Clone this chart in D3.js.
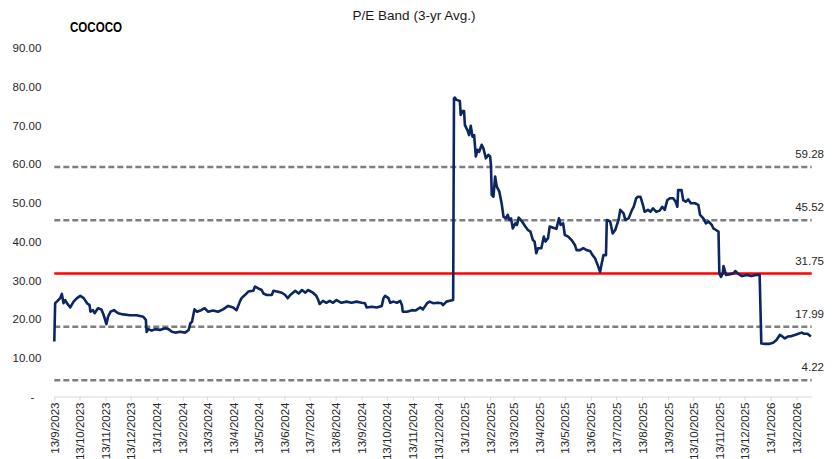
<!DOCTYPE html>
<html lang="en">
<head>
<meta charset="UTF-8"/>
<title>P/E Band (3-yr Avg.)</title>
<style>
  body { margin: 0; background: #ffffff; }
  svg { display: block; font-family: "Liberation Sans", Arial, sans-serif; }
  .tick_text { font-size: 11.5px; fill: #262626; }
  .band_label { font-size: 11.5px; fill: #262626; }
</style>
</head>
<body>
<svg width="840" height="459"></svg>
<script src="https://d3js.org/d3.v7.min.js"></script>
<script>
// P/E (3-yr avg) series
const dates = [
  "2023-09-13","2023-09-14","2023-09-16","2023-09-20","2023-09-22","2023-09-24","2023-09-26","2023-09-28",
  "2023-10-02","2023-10-06","2023-10-10","2023-10-14","2023-10-18","2023-10-22","2023-10-25","2023-10-26",
  "2023-10-29","2023-10-31","2023-11-04","2023-11-08","2023-11-10","2023-11-12","2023-11-14","2023-11-16",
  "2023-11-19","2023-11-23","2023-11-28","2023-12-04","2023-12-12","2023-12-20","2023-12-28","2023-12-31",
  "2024-01-01","2024-01-03","2024-01-07","2024-01-11","2024-01-17","2024-01-23","2024-01-27","2024-01-31",
  "2024-02-04","2024-02-10","2024-02-16","2024-02-20","2024-02-22","2024-02-24","2024-02-26","2024-02-27",
  "2024-03-01","2024-03-05","2024-03-10","2024-03-14","2024-03-20","2024-03-26","2024-04-01","2024-04-07",
  "2024-04-13","2024-04-17","2024-04-21","2024-04-23","2024-04-27","2024-05-01","2024-05-07","2024-05-09",
  "2024-05-13","2024-05-17","2024-05-19","2024-05-23","2024-05-29","2024-05-31","2024-06-04","2024-06-10",
  "2024-06-14","2024-06-17","2024-06-20","2024-06-26","2024-06-30","2024-07-04","2024-07-08","2024-07-11",
  "2024-07-17","2024-07-21","2024-07-23","2024-07-25","2024-07-29","2024-08-02","2024-08-06","2024-08-10",
  "2024-08-14","2024-08-20","2024-08-26","2024-09-01","2024-09-07","2024-09-13","2024-09-17","2024-09-19",
  "2024-09-25","2024-10-01","2024-10-07","2024-10-09","2024-10-11","2024-10-15","2024-10-17","2024-10-21",
  "2024-10-25","2024-10-29","2024-10-31","2024-11-01","2024-11-06","2024-11-12","2024-11-16","2024-11-22",
  "2024-11-25","2024-11-30","2024-12-03","2024-12-07","2024-12-13","2024-12-17","2024-12-19","2024-12-23",
  "2024-12-27","2024-12-31",
  "2025-01-01","2025-01-02","2025-01-04","2025-01-08","2025-01-09","2025-01-11","2025-01-13","2025-01-14",
  "2025-01-17","2025-01-19","2025-01-21","2025-01-23","2025-01-25","2025-01-27","2025-01-29","2025-01-31",
  "2025-02-03","2025-02-05","2025-02-08","2025-02-11","2025-02-13","2025-02-14","2025-02-15","2025-02-17",
  "2025-02-19","2025-02-21","2025-02-24","2025-02-26","2025-02-27","2025-03-01","2025-03-04","2025-03-06",
  "2025-03-08","2025-03-10","2025-03-12","2025-03-15","2025-03-17","2025-03-19","2025-03-23","2025-03-27",
  "2025-03-30","2025-04-02","2025-04-05","2025-04-07","2025-04-09","2025-04-11","2025-04-15","2025-04-18",
  "2025-04-20","2025-04-23","2025-04-25","2025-04-29","2025-05-03","2025-05-06","2025-05-08","2025-05-11",
  "2025-05-13","2025-05-17","2025-05-21","2025-05-25","2025-05-27","2025-05-31","2025-06-04","2025-06-08",
  "2025-06-12","2025-06-15","2025-06-18","2025-06-21","2025-06-24","2025-06-26","2025-06-28","2025-07-01",
  "2025-07-02","2025-07-06","2025-07-09","2025-07-12","2025-07-16","2025-07-18","2025-07-22","2025-07-24",
  "2025-07-28","2025-08-01","2025-08-03","2025-08-06","2025-08-08","2025-08-11","2025-08-14","2025-08-16",
  "2025-08-20","2025-08-23","2025-08-26","2025-08-30","2025-09-03","2025-09-06","2025-09-09","2025-09-12",
  "2025-09-15","2025-09-19","2025-09-22","2025-09-24","2025-09-25","2025-09-29","2025-10-01","2025-10-04",
  "2025-10-07","2025-10-10","2025-10-15","2025-10-19","2025-10-21","2025-10-25","2025-10-28","2025-10-31",
  "2025-11-04","2025-11-06","2025-11-09","2025-11-12","2025-11-13","2025-11-15","2025-11-17","2025-11-18",
  "2025-11-21","2025-11-26","2025-11-30","2025-12-02","2025-12-06","2025-12-10","2025-12-16","2025-12-21",
  "2025-12-27","2025-12-31",
  "2026-01-02","2026-01-06","2026-01-12","2026-01-16","2026-01-20","2026-01-24","2026-01-27","2026-01-30",
  "2026-02-03","2026-02-07","2026-02-11","2026-02-15","2026-02-19","2026-02-22","2026-02-26","2026-03-02"
];
const pe = [
  14.2,24.1,24.5,25.4,26.5,24.1,24.9,24.1,
  23.0,24.5,25.4,26.0,25.4,24.1,23.6,21.9,
  22.3,21.5,22.8,22.5,21.5,20.2,18.7,20.6,
  21.9,22.3,21.5,21.2,21.0,21.0,20.6,19.8,
  16.7,17.4,17.0,17.4,17.2,17.6,17.4,16.7,
  16.5,16.7,16.5,17.2,18.9,19.3,21.5,22.5,
  21.9,22.2,22.8,21.9,22.2,21.9,22.5,23.4,
  23.0,22.3,24.5,25.4,26.2,27.1,27.3,28.4,
  27.9,27.5,26.6,26.2,26.2,27.3,27.1,26.8,
  26.2,25.4,26.2,27.3,26.6,27.5,26.8,27.5,
  26.8,26.0,25.1,23.9,24.7,24.2,24.7,24.2,
  24.9,24.2,24.5,24.2,24.5,24.2,24.1,23.0,
  23.2,23.0,23.4,25.4,26.0,25.4,24.2,24.5,
  24.2,24.7,23.6,21.9,21.9,22.3,22.2,23.0,
  22.5,24.1,24.5,24.1,24.2,24.1,23.6,24.5,
  24.7,24.9,
  77.0,77.2,76.6,76.3,72.7,73.7,73.7,70.1,
  68.8,67.5,69.9,67.1,67.5,62.0,63.7,63.2,
  65.0,64.1,61.5,62.4,62.0,59.8,52.0,51.6,
  56.8,54.2,52.9,50.7,49.5,46.4,46.0,46.9,
  45.6,46.0,43.4,44.7,44.3,46.2,45.2,43.9,
  43.0,42.6,40.4,40.0,37.0,38.3,38.3,41.3,
  40.0,40.9,43.9,43.6,43.3,46.0,44.3,44.7,
  41.7,41.3,40.4,39.1,37.8,37.8,38.3,37.8,
  37.6,36.5,35.7,34.0,32.2,34.4,36.5,36.5,
  45.6,45.2,42.1,43.0,45.6,48.2,47.3,45.6,
  46.0,48.2,49.0,51.2,51.6,51.6,49.5,47.7,
  48.2,47.7,48.6,47.7,48.0,49.0,48.2,50.7,
  51.2,51.2,50.3,49.0,53.3,53.3,50.7,50.3,
  50.9,49.9,49.9,49.5,46.9,46.0,44.7,45.2,
  44.3,43.4,43.0,42.6,31.8,30.9,31.8,33.7,
  31.4,31.6,31.8,32.4,31.6,31.1,31.4,31.1,
  31.4,31.4,
  13.7,13.6,13.6,13.9,14.6,15.9,15.5,15.0,
  15.5,15.6,15.9,16.2,16.5,16.2,16.2,15.5
];

// mean and +/- 1, 2 standard deviation bands
const bandValues = [59.28, 45.52, 31.75, 17.99, 4.22];
const bandMean = 31.75;
const yTicks = [0, 10, 20, 30, 40, 50, 60, 70, 80, 90];

const parseDate = d3.timeParse("%Y-%m-%d");
const series = dates.map((d, i) => ({ date: parseDate(d), value: pe[i] }));

const svg = d3.select("svg");

const plotLeft = 54.3, plotRight = 811.7, plotTop = 48, plotBottom = 396.5;

const xStart = parseDate("2023-09-13");
const xEnd = parseDate("2026-03-03");

const xScale = d3.scaleTime()
  .domain([xStart, xEnd])
  .range([plotLeft, plotRight]);

const yScale = d3.scaleLinear()
  .domain([0, 90])
  .range([plotBottom, plotTop]);

// monthly ticks on the 13th
const tickDates = d3.timeMonth.range(new Date(2023, 8, 1), xEnd)
  .map(d => new Date(d.getFullYear(), d.getMonth(), 13))
  .filter(d => d <= xEnd);
const fmtTick = d3.timeFormat("%-d/%-m/%Y");

// title
svg.append("text")
  .attr("x", 414)
  .attr("y", 19.5)
  .attr("text-anchor", "middle")
  .style("font-size", "13.5px")
  .style("fill", "#1a1a1a")
  .text("P/E Band (3-yr Avg.)");

svg.append("text")
  .attr("x", 70)
  .attr("y", 31.5)
  .attr("textLength", 52)
  .attr("lengthAdjust", "spacingAndGlyphs")
  .style("font-size", "14px")
  .style("font-weight", "bold")
  .style("fill", "#000")
  .text("COCOCO");

// y axis labels (no axis line)
const yAxis = svg.append("g")
  .attr("transform", `translate(${plotLeft}, 0)`)
  .call(d3.axisLeft(yScale)
    .tickValues(yTicks)
    .tickSize(0)
    .tickPadding(13)
    .tickFormat(d => d === 0 ? "-" : d3.format(".2f")(d)));
yAxis.select(".domain").remove();
yAxis.selectAll("text")
  .attr("class", "tick_text")
  .attr("x", d => d === 0 ? -20 : -13)
  .style("font-family", "inherit")
  .style("font-size", "11.5px");

// x axis
const xAxis = svg.append("g")
  .attr("transform", `translate(0, ${plotBottom})`)
  .call(d3.axisBottom(xScale)
    .tickValues(tickDates)
    .tickSizeInner(4)
    .tickSizeOuter(0)
    .tickFormat(fmtTick));
xAxis.select(".domain").attr("stroke", "#d9d9d9").attr("stroke-width", 1);
xAxis.selectAll(".tick line").attr("stroke", "#d9d9d9");
xAxis.selectAll("text")
  .attr("class", "tick_text")
  .attr("transform", "rotate(-90)")
  .attr("x", -6)
  .attr("y", 0)
  .attr("dy", "0.35em")
  .style("text-anchor", "end")
  .style("font-family", "inherit")
  .style("font-size", "11.5px");

// band lines
svg.append("g")
  .selectAll("line")
  .data(bandValues)
  .enter()
  .append("line")
  .attr("x1", plotLeft)
  .attr("x2", plotRight)
  .attr("y1", d => yScale(d))
  .attr("y2", d => yScale(d))
  .attr("stroke", d => d === bandMean ? "#ff0000" : "#7f7f7f")
  .attr("stroke-width", 2.5)
  .attr("stroke-dasharray", d => d === bandMean ? null : "6,3");

svg.append("g")
  .selectAll("text")
  .data(bandValues)
  .enter()
  .append("text")
  .attr("class", "band_label")
  .attr("x", 824)
  .attr("y", d => yScale(d) - 9)
  .attr("text-anchor", "end")
  .text(d => d3.format(".2f")(d));

// P/E line
const line = d3.line()
  .x(d => xScale(d.date))
  .y(d => yScale(d.value));

svg.append("path")
  .datum(series)
  .attr("fill", "none")
  .attr("stroke", "#0b2661")
  .attr("stroke-width", 2.6)
  .attr("stroke-linejoin", "round")
  .attr("d", line);
</script>
</body>
</html>
